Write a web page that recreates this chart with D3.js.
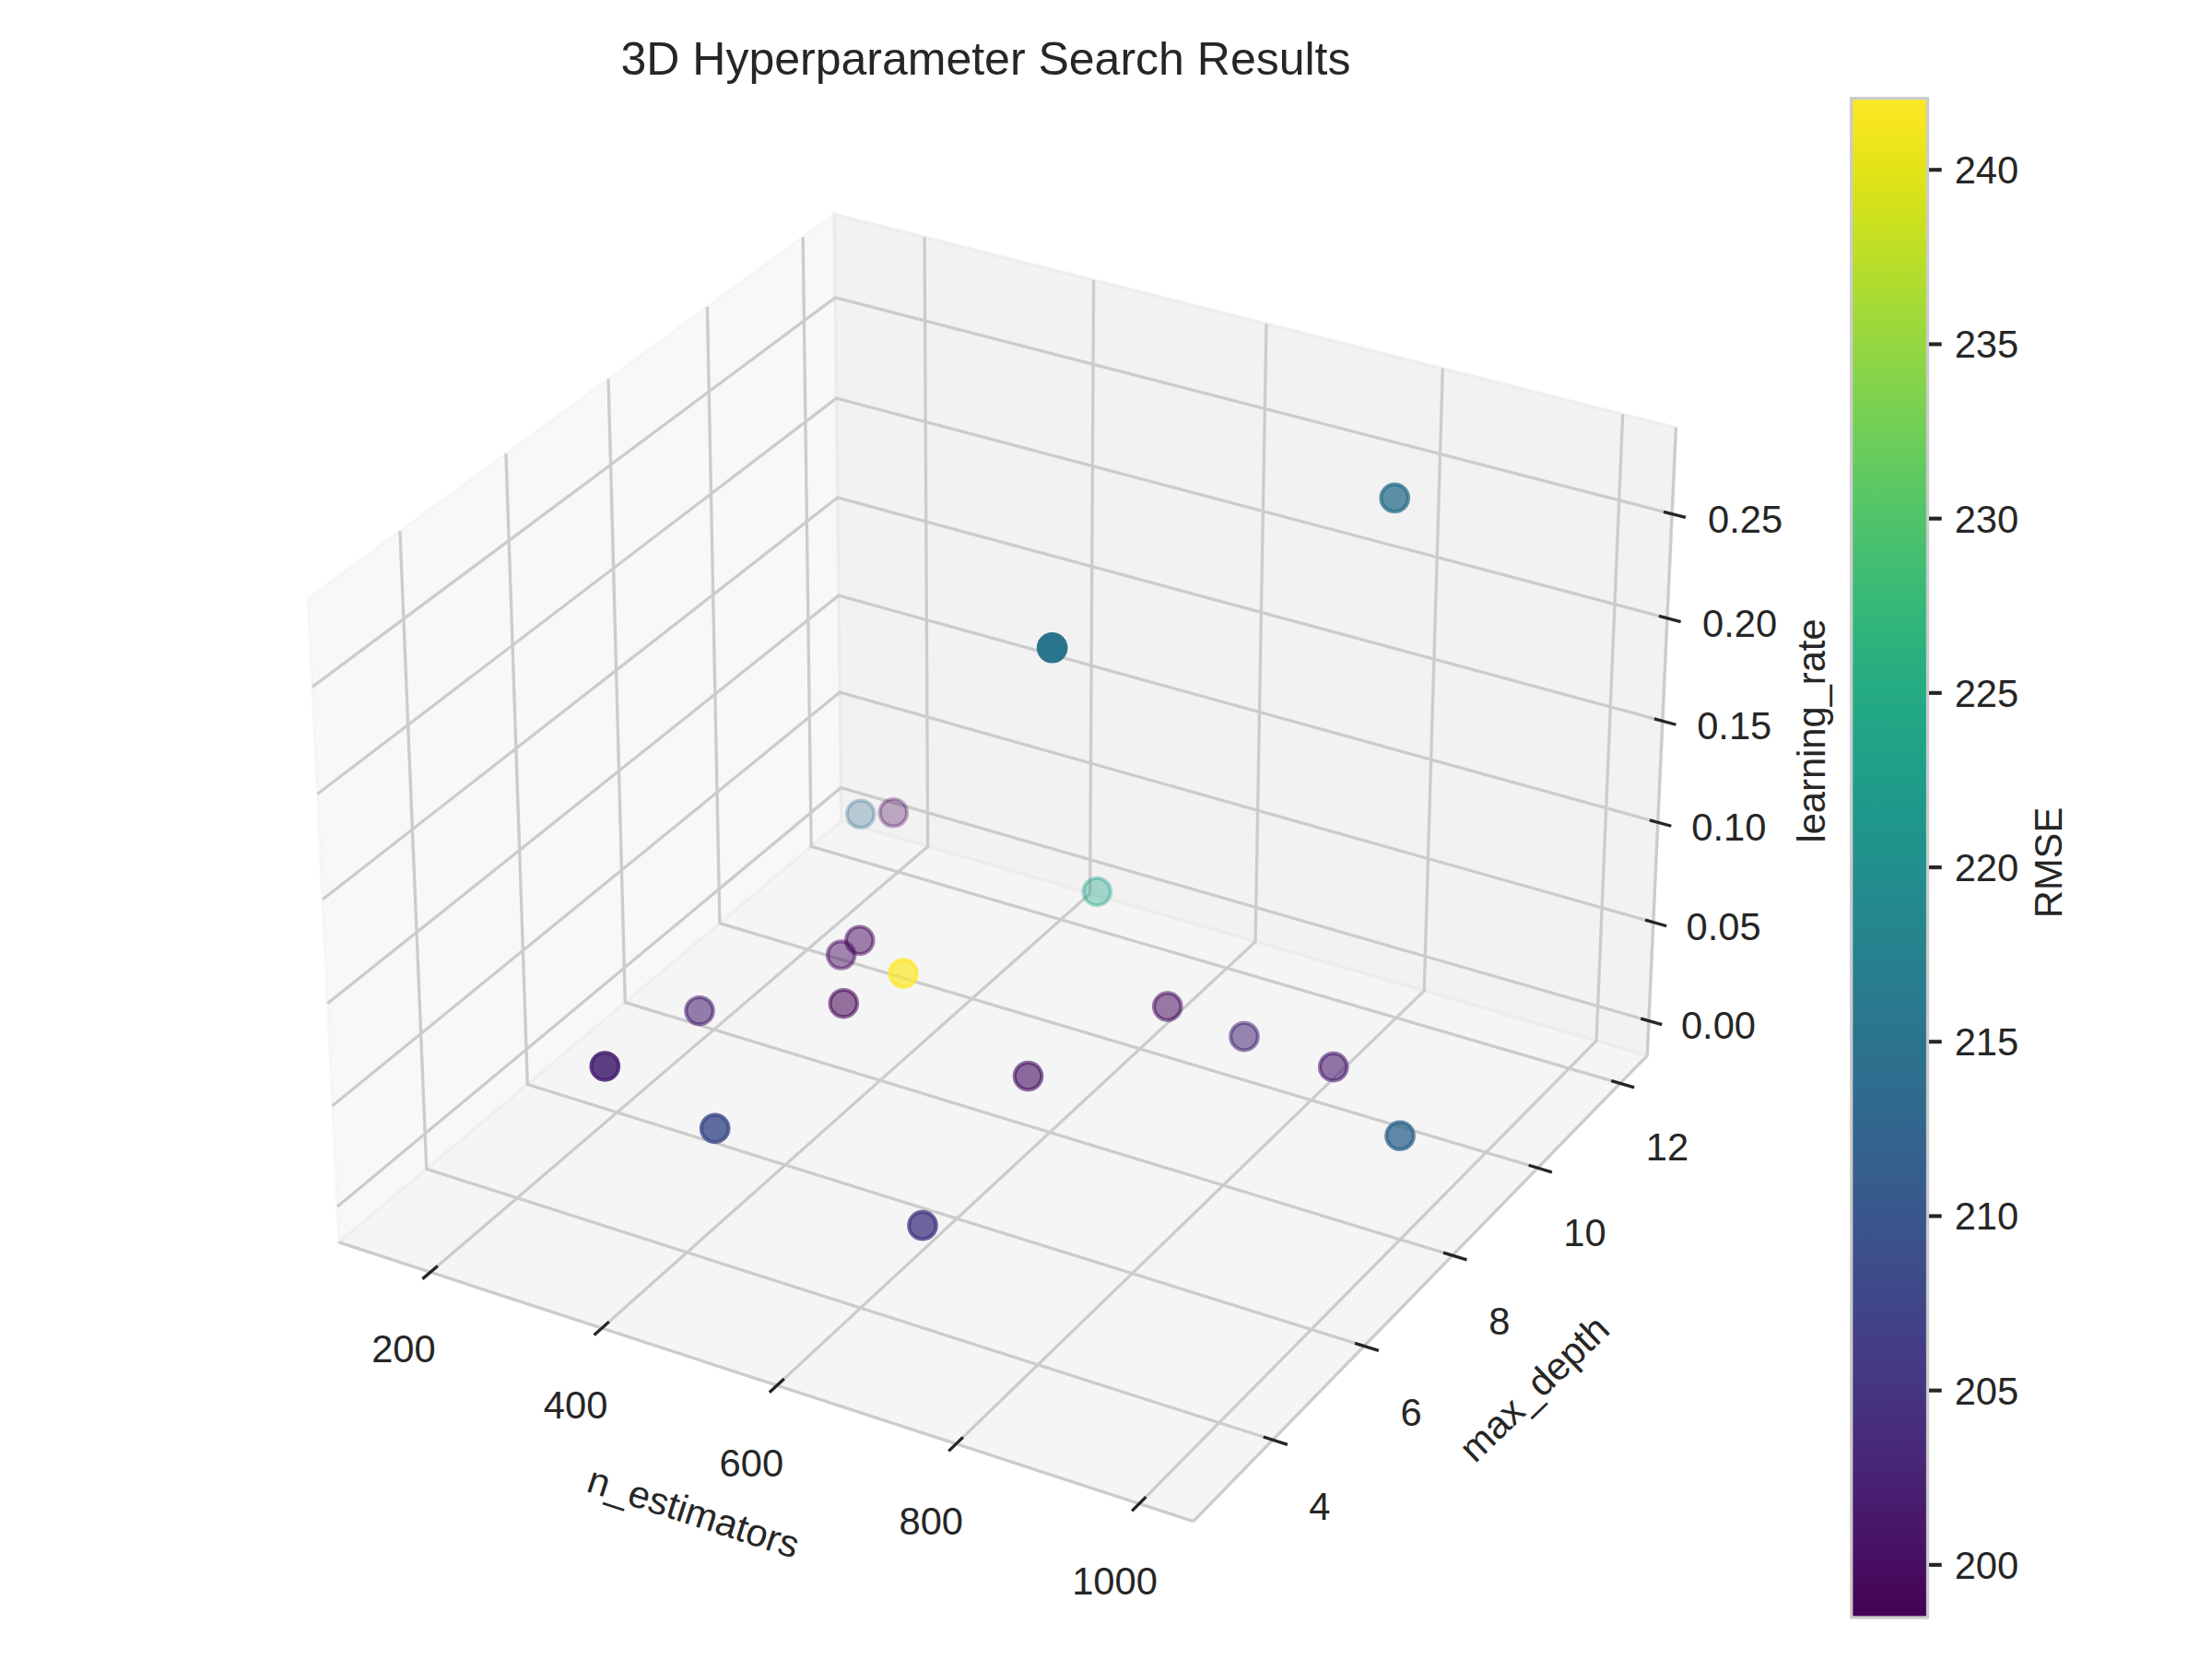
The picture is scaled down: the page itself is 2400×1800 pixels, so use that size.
<!DOCTYPE html>
<html><head><meta charset="utf-8">
<script src="https://cdn.jsdelivr.net/npm/d3@7"></script>
<style>html,body{margin:0;background:#fff}svg{display:block}text{font-family:"Liberation Sans",Arial,sans-serif;fill:#262626}</style>
</head><body><svg id="c" width="2400" height="1800"></svg>
<script>
// ---- data ----
const nEstimators=[829.5,707.1,153.9,194.7,443.6,320.7,298.2,484.2,357.3,242.4,631.9,721.5,824.6,574.5,370.6,435.7,615.7,996.6];
const maxDepth=[11,6,12,12,12,9,9,7,8,7,10,10,10,8,3,4,5,8];
const learningRate=[.2622,.2705,.0069,.0126,.0022,.0227,.0124,.0680,.0159,.0182,.0080,.0043,.0023,.0073,.0915,.0485,.0030,.0334];
const rmse=[214.6,215.3,213.7,199,223.7,199.4,200,242,198.5,202.4,199.8,203.3,201.5,200.7,202.9,208.5,205.9,212.9];
const xTicks=[200,400,600,800,1000];
const yTicks=[4,6,8,10,12];
const zTicks=[0,.05,.10,.15,.20,.25];
const cTicks=[200,205,210,215,220,225,230,235,240];
const xLim=[91.6,1058.3], yLim=[2.32,12.67], zLim=[-.0178,.2909], cLim=[198.49,242.05];

// ---- matplotlib-style 3D view (elev 30, azim -60, dist 10) ----
const box=[1.19048,1.19048,.89286];
const U=[.866025,.5,0],V=[-.25,.433013,.866025],W=[.433013,-.75,.5],DIST=10;
const PX=8920,CX=1090.6,CY=907.4;
const sx=d3.scaleLinear().domain(xLim).range([-box[0]/2,box[0]/2]);
const sy=d3.scaleLinear().domain(yLim).range([-box[1]/2,box[1]/2]);
const sz=d3.scaleLinear().domain(zLim).range([-box[2]/2,box[2]/2]);
const dot=(a,b)=>a[0]*b[0]+a[1]*b[1]+a[2]*b[2];
function project(x,y,z){const r=[sx(x),sy(y),sz(z)],D=DIST-dot(W,r);
  return {x:CX+PX*dot(U,r)/D,y:CY-PX*dot(V,r)/D,d:D};}
const P=(x,y,z)=>{const p=project(x,y,z);return [p.x,p.y];};
const [x0,x1]=xLim,[y0,y1]=yLim,[z0,z1]=zLim;

const svg=d3.select("#c");
const line=d3.line();
const LW=3.33, GRID="#cccccc";

// panes
const panes=[
 {c:[.95,.95,.95],q:[[x0,y0,z0],[x0,y1,z0],[x0,y1,z1],[x0,y0,z1]]},
 {c:[.90,.90,.90],q:[[x0,y1,z0],[x1,y1,z0],[x1,y1,z1],[x0,y1,z1]]},
 {c:[.925,.925,.925],q:[[x0,y0,z0],[x1,y0,z0],[x1,y1,z0],[x0,y1,z0]]}];
svg.append("g").selectAll("path").data(panes).join("path")
  .attr("d",d=>line(d.q.map(q=>P(...q)))+"Z")
  .attr("fill",d=>`rgba(${d.c.map(v=>Math.round(v*255)).join(",")},.5)`)
  .attr("stroke",d=>`rgba(${d.c.map(v=>Math.round(v*255)).join(",")},.5)`)
  .attr("stroke-width",LW).attr("stroke-linejoin","miter");

// axis edges
const edges=[[[x0,y0,z0],[x1,y0,z0]],[[x1,y0,z0],[x1,y1,z0]],[[x1,y1,z0],[x1,y1,z1]]];
svg.append("g").selectAll("path").data(edges).join("path")
  .attr("d",d=>line(d.map(q=>P(...q)))).attr("fill","none").attr("stroke",GRID).attr("stroke-width",LW);

// grid
const grids=[
 ...xTicks.map(t=>[[t,y0,z0],[t,y1,z0],[t,y1,z1]]),
 ...yTicks.map(t=>[[x1,t,z0],[x0,t,z0],[x0,t,z1]]),
 ...zTicks.map(t=>[[x1,y1,t],[x0,y1,t],[x0,y0,t]])];
svg.append("g").selectAll("path").data(grids).join("path")
  .attr("d",d=>line(d.map(q=>P(...q)))).attr("fill","none").attr("stroke",GRID).attr("stroke-width",LW).attr("stroke-linejoin","miter");

// ticks
const dx=x1-x0,dy=y1-y0;
const tickSegs=[
 ...xTicks.map(t=>[[t,y0+.0135*dy,z0],[t,y0-.0145*dy,z0]]),
 ...yTicks.map(t=>[[x1-.0105*dx,t,z0],[x1+.0165*dx,t,z0]]),
 ...zTicks.map(t=>[[x1-.0095*dx,y1,t],[x1+.0155*dx,y1,t]])];
svg.append("g").selectAll("path").data(tickSegs).join("path")
  .attr("d",d=>line(d.map(q=>P(...q)))).attr("fill","none").attr("stroke","#262626").attr("stroke-width",LW);

// tick labels (offsets drift slightly along each axis because of perspective)
const FS=41.67;
const lab=(g,list,pos,off,fmt)=>g.selectAll("text").data(list).join("text")
  .attr("x",t=>P(...pos(t))[0]+off(t)[0]).attr("y",t=>P(...pos(t))[1]+off(t)[1])
  .attr("dy",".36em").attr("text-anchor","middle").attr("font-size",FS).text(fmt);
const offX=d3.scaleLinear().domain([200,1000]).range([[-29,83],[-26.5,84]]);
const offY=d3.scaleLinear().domain([4,12]).range([[51,72],[51,69]]);
const offZ=d3.scaleLinear().domain([0,.25]).range([[75.5,4],[79.5,5.5]]);
lab(svg.append("g"),xTicks,t=>[t,y0,z0],offX,d3.format("d"));
lab(svg.append("g"),yTicks,t=>[x1,t,z0],offY,d3.format("d"));
lab(svg.append("g"),zTicks,t=>[x1,y1,t],offZ,d3.format(".2f"));

// points, farthest first, faded with depth
const color=d3.scaleSequential(d3.interpolateViridis).domain(cLim);
const recs=rmse.map((r,i)=>{const p=project(nEstimators[i],maxDepth[i],learningRate[i]);return {...p,tz:-DIST/p.d,r};});
const alpha=d3.scaleLinear().domain(d3.extent(recs,d=>d.tz)).range([1,.3]);
recs.sort((a,b)=>b.d-a.d);
svg.append("g").selectAll("circle").data(recs).join("circle")
  .attr("cx",d=>d.x).attr("cy",d=>d.y).attr("r",14.73)
  .attr("fill",d=>color(d.r)).attr("stroke",d=>color(d.r))
  .attr("fill-opacity",d=>alpha(d.tz)).attr("stroke-opacity",d=>alpha(d.tz))
  .attr("stroke-width",4.17);

// axis labels
const axisLabel=(t,x,y,rot,fs)=>svg.append("text").attr("transform",`translate(${x},${y}) rotate(${rot})`)
  .attr("text-anchor","middle").attr("dy",".36em").attr("font-size",fs).text(t);
axisLabel("3D Hyperparameter Search Results",1069.5,63,0,50);
axisLabel("n_estimators",752.8,1640,18,FS);
axisLabel("max_depth",1664,1506,-44,FS);
axisLabel("learning_rate",1965,793,-90,FS);
axisLabel("RMSE",2222,936,-90,FS);

// colorbar
const cy=d3.scaleLinear().domain(cLim).range([1755,106.7]);
const defs=svg.append("defs");
const grad=defs.append("linearGradient").attr("id","vir").attr("x1",0).attr("x2",0).attr("y1",1).attr("y2",0);
grad.selectAll("stop").data(d3.range(0,1.0001,1/64)).join("stop")
  .attr("offset",d=>d).attr("stop-color",d=>d3.interpolateViridis(d));
svg.append("rect").attr("x",2008.7).attr("width",82.8).attr("y",cy(cLim[1])).attr("height",cy(cLim[0])-cy(cLim[1]))
  .attr("fill","url(#vir)").attr("stroke","#cccccc").attr("stroke-width",LW);
const ct=svg.append("g").selectAll("g").data(cTicks).join("g").attr("transform",d=>`translate(0,${cy(d)})`);
ct.append("line").attr("x1",2093).attr("x2",2106.7).attr("stroke","#262626").attr("stroke-width",4.17);
ct.append("text").attr("x",2120.7).attr("dy",".36em").attr("font-size",FS).text(d=>d);
</script></body></html>
